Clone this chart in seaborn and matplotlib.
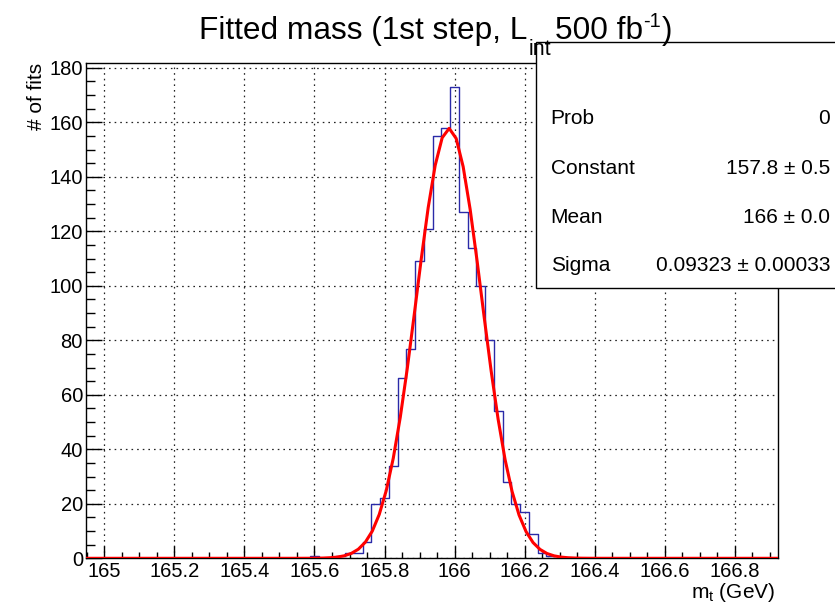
import numpy as np
import pandas as pd
import matplotlib
matplotlib.use("Agg")
import matplotlib.pyplot as plt
import seaborn as sns
from matplotlib.patches import Rectangle
from matplotlib.ticker import MultipleLocator, FixedLocator

# ---------------- data ----------------
bin_edges = [165.587, 165.612, 165.637, 165.662, 165.687, 165.712, 165.737,
             165.762, 165.787, 165.812, 165.837, 165.862, 165.887, 165.912,
             165.937, 165.962, 165.987, 166.012, 166.037, 166.062, 166.087,
             166.112, 166.137, 166.162, 166.187, 166.212, 166.237, 166.262,
             166.287]
counts = [1, 0, 0, 1, 2, 2, 6, 20, 22, 34, 66, 77, 109, 121, 155, 158, 173,
          127, 114, 100, 80, 54, 28, 20, 17, 9, 2, 1]

fit_constant = 157.8
fit_mean = 165.984
fit_sigma = 0.09323

x_ticks = [165.0, 165.2, 165.4, 165.6, 165.8, 166.0, 166.2, 166.4, 166.6, 166.8]
x_tick_labels = ["165", "165.2", "165.4", "165.6", "165.8", "166", "166.2",
                 "166.4", "166.6", "166.8"]
y_ticks = [0, 20, 40, 60, 80, 100, 120, 140, 160, 180]
y_tick_labels = [str(v) for v in y_ticks]

stat_names = ["Prob", "Constant", "Mean", "Sigma"]
stat_values = ["0", "157.8 \u00b1 0.5", "166 \u00b1 0.0", "0.09323 \u00b1 0.00033"]

x_range = (164.947, 166.922)
y_range = (0, 181.9)

# ---------------- style ----------------
sns.set_theme(style="white")
plt.rcParams["font.family"] = ["Liberation Sans", "DejaVu Sans"]
plt.rcParams["mathtext.fontset"] = "custom"
plt.rcParams["mathtext.rm"] = "Liberation Sans"
plt.rcParams["mathtext.it"] = "Liberation Sans:italic"

W, H = 835, 609
fig = plt.figure(figsize=(W / 100, H / 100), dpi=100)
fig.patch.set_facecolor("white")

ax_l, ax_r, ax_t, ax_b = 85.7, 777.7, 62.7, 558.3
ax = fig.add_axes([ax_l / W, 1 - ax_b / H, (ax_r - ax_l) / W, (ax_b - ax_t) / H])
ax.set_facecolor("white")

# histogram
centers = [(a + b) / 2 for a, b in zip(bin_edges[:-1], bin_edges[1:])]
df = pd.DataFrame({"m": centers, "n": counts})
sns.histplot(data=df, x="m", weights="n", bins=bin_edges, element="step",
             fill=False, color="#2a2aa8", linewidth=1.0, ax=ax, zorder=2)

# gaussian fit curve (ROOT draws TF1 with 100 points over full range)
xs = np.linspace(x_range[0], x_range[1], 100)
ys = fit_constant * np.exp(-0.5 * ((xs - fit_mean) / fit_sigma) ** 2)
sns.lineplot(x=xs, y=ys, color="#ff0000", linewidth=2.2, ax=ax, zorder=3)

ax.set_xlim(*x_range)
ax.set_ylim(*y_range)
ax.set_xlabel("")
ax.set_ylabel("")

ax.xaxis.set_major_locator(FixedLocator(x_ticks))
ax.set_xticklabels(x_tick_labels)
ax.xaxis.set_minor_locator(MultipleLocator(0.05))
ax.yaxis.set_major_locator(FixedLocator(y_ticks))
ax.set_yticklabels(y_tick_labels)
ax.yaxis.set_minor_locator(MultipleLocator(5))

ax.tick_params(axis="x", which="major", direction="in", length=8.6, width=1.0,
               labelsize=14.5, pad=3, color="black", labelcolor="black",
               bottom=True, top=False)
ax.tick_params(axis="x", which="minor", direction="in", length=4.3, width=1.0,
               color="black", bottom=True, top=False)
ax.tick_params(axis="y", which="major", direction="in", length=11.5, width=1.0,
               labelsize=14.5, pad=2, color="black", labelcolor="black",
               left=True, right=False)
ax.tick_params(axis="y", which="minor", direction="in", length=6.5, width=1.0,
               color="black", left=True, right=False)

ax.grid(True, which="major", color="#222222", linestyle=(0, (1.3, 3.2)),
        linewidth=0.9)
ax.set_axisbelow(True)
for s in ax.spines.values():
    s.set_visible(True)
    s.set_color("black")
    s.set_linewidth(1.0)

# axis titles
fig.text(37 / W, 1 - 63 / H, "# of fits", rotation=90, ha="center", va="top",
         fontsize=15, color="black")
fig.text(775 / W, 1 - 598 / H, r"m$_{\mathregular{t}}$ (GeV)", ha="right",
         va="baseline", fontsize=15, color="black")

# stats box
box = Rectangle((536 / W, 1 - 288.3 / H), (860 - 536) / W, (288.3 - 41.7) / H,
                transform=fig.transFigure, facecolor="white",
                edgecolor="black", linewidth=1.0, zorder=10)
fig.add_artist(box)
baselines = [124, 174.3, 223.3, 270.7]
for name, val, yb in zip(stat_names, stat_values, baselines):
    fig.text(550.7 / W, 1 - yb / H, name, ha="left", va="baseline",
             fontsize=15, color="black", zorder=11)
    fig.text(830 / W, 1 - yb / H, val, ha="right", va="baseline",
             fontsize=15, color="black", zorder=11)

# title built from pieces (ROOT-style sub/superscripts)
renderer = fig.canvas.get_renderer()
# (text, fontsize, baseline shift px, extra gap after px)
pieces = [("Fitted mass (1st step, L", 22.8, 0, 1),
          ("int", 15.5, -16, 4),
          ("500 fb", 22.8, 0, 0),
          ("-1", 14.5, 12, 1),
          (")", 22.8, 0, 0)]
title_base = 39
texts = []
widths = []
for s, fs, dy, gap in pieces:
    t = fig.text(0, 1 - (title_base - dy) / H, s, ha="left", va="baseline",
                 fontsize=fs, color="black", zorder=12)
    texts.append(t)
    widths.append(t.get_window_extent(renderer).width + gap)
total = sum(widths)
x = 435.5 - total / 2
for t, w in zip(texts, widths):
    t.set_x(x / W)
    x += w

fig.savefig("out.png", dpi=100, facecolor="white")
